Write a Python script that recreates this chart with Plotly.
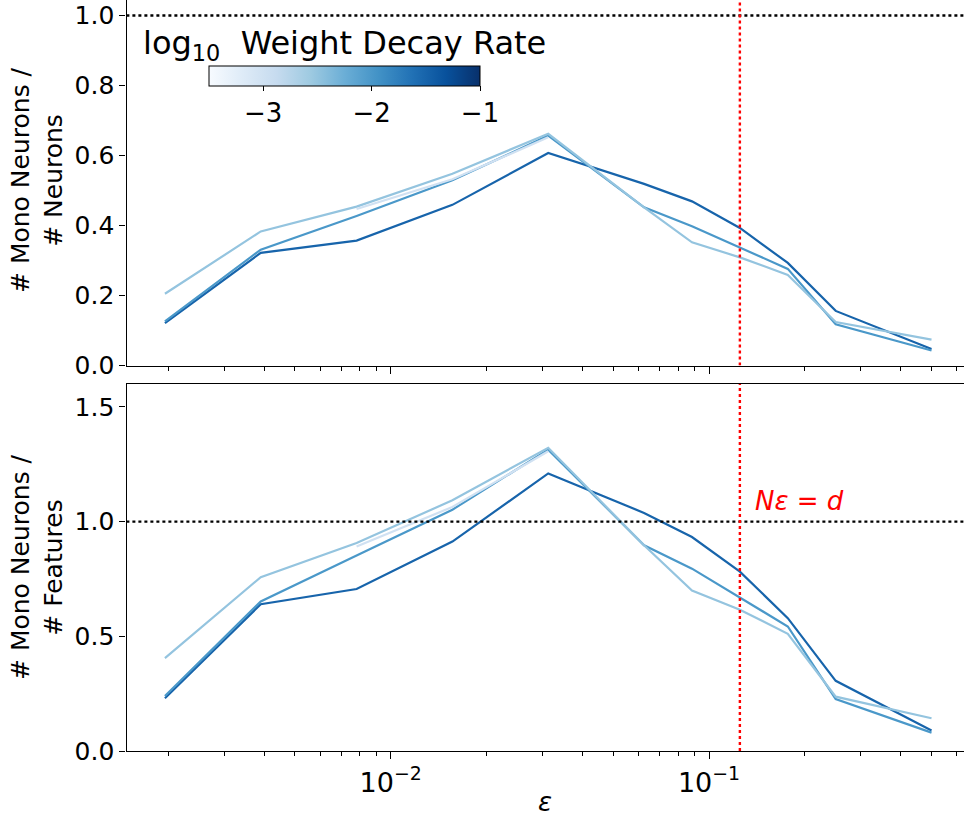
import math
import plotly.graph_objects as go
from plotly.colors import sample_colorscale

# Sparsity values (epsilon) on the shared log x-axis
eps = [0.001953125, 0.00390625, 0.0078125, 0.015625, 0.03125, 0.0625,
       0.0884, 0.125, 0.1768, 0.25, 0.5]

# log10 of the weight decay rate for each run (drawn in this order)
log_wd = [-1.5, -2.0, -2.5, -3.0]

# Fraction of monosemantic neurons among all neurons
mono_per_neuron = [
    [0.121, 0.322, 0.357, 0.459, 0.607, 0.519, 0.469, 0.393, 0.293, 0.156, 0.047],
    [0.126, 0.331, 0.427, 0.529, 0.657, 0.452, 0.398, 0.336, 0.276, 0.118, 0.043],
    [0.205, 0.383, 0.454, 0.548, 0.662, 0.452, 0.352, 0.309, 0.259, 0.124, 0.074],
    [None, None, 0.447, 0.532, 0.652, None, None, None, None, None, None],
]

# Monosemantic neurons relative to the number of features
mono_per_feature = [
    [0.230, 0.640, 0.706, 0.913, 1.210, 1.038, 0.933, 0.782, 0.579, 0.306, 0.089],
    [0.240, 0.652, 0.852, 1.052, 1.314, 0.897, 0.795, 0.670, 0.543, 0.226, 0.080],
    [0.405, 0.758, 0.907, 1.093, 1.322, 0.897, 0.700, 0.616, 0.511, 0.237, 0.143],
    [None, None, 0.892, 1.064, 1.307, None, None, None, None, None, None],
]

eps_critical = 0.125          # N * eps = d
wd_min, wd_max = -3.5, -1.0   # colour normalisation

top_yticks = [0.0, 0.2, 0.4, 0.6, 0.8, 1.0]
bot_yticks = [0.0, 0.5, 1.0, 1.5]
cbar_ticks = [-3, -2, -1]
x_major = [0.01, 0.1]
x_minor = [m * 10.0 ** p for p in (-3, -2, -1) for m in range(2, 10)]

blues = ["#f7fbff", "#deebf7", "#c6dbef", "#9ecae1", "#6baed6",
         "#4292c6", "#2171b5", "#08519c", "#08306b"]
blues_scale = [[i / (len(blues) - 1), c] for i, c in enumerate(blues)]

FONT = "DejaVu Sans"
W, H = 964, 822

fig = go.Figure()

for wd, top, bot in zip(log_wd, mono_per_neuron, mono_per_feature):
    col = sample_colorscale(blues_scale, [(wd - wd_min) / (wd_max - wd_min)])[0]
    fig.add_trace(go.Scatter(x=eps, y=top, mode="lines", xaxis="x", yaxis="y",
                             line=dict(color=col, width=2.2), showlegend=False,
                             connectgaps=False))
    fig.add_trace(go.Scatter(x=eps, y=bot, mode="lines", xaxis="x2", yaxis="y2",
                             line=dict(color=col, width=2.2), showlegend=False,
                             connectgaps=False))

dotted = "3px,3px"
# Reference lines: ratio of 1 and the critical sparsity
for xa, ya, ytop in (("x", "y", 1.2), ("x2", "y2", 1.8)):
    fig.add_trace(go.Scatter(x=[0.001, 1.0], y=[1.0, 1.0], mode="lines",
                             xaxis=xa, yaxis=ya, showlegend=False,
                             line=dict(color="black", width=2.4, dash=dotted)))
    fig.add_trace(go.Scatter(x=[eps_critical, eps_critical], y=[0, ytop], mode="lines",
                             xaxis=xa, yaxis=ya, showlegend=False,
                             line=dict(color="red", width=2.4, dash=dotted)))

# Carrier for the weight-decay colour bar
fig.add_trace(go.Scatter(
    x=[0.01, 0.01], y=[-1, -1], mode="markers", xaxis="x", yaxis="y",
    showlegend=False, hoverinfo="skip",
    marker=dict(color=[wd_min, wd_max], cmin=wd_min, cmax=wd_max,
                colorscale=blues_scale, opacity=0, size=1, showscale=True,
                colorbar=dict(orientation="h", x=209 / W, xanchor="left",
                              y=1 - 66 / H, yanchor="top",
                              len=271, lenmode="pixels",
                              thickness=20, thicknessmode="pixels",
                              xpad=0, ypad=0, outlinecolor="black", outlinewidth=1,
                              tickmode="array", tickvals=cbar_ticks,
                              ticktext=["\u2212" + str(abs(t)) for t in cbar_ticks],
                              ticks="outside", ticklen=5, tickwidth=1.2,
                              tickcolor="black",
                              tickfont=dict(family=FONT, size=26, color="black"))),
))

x_left = 126.5
xr = [-2.830, -0.199]
xdom = [x_left / W, 1.0]

xcommon = dict(type="log", range=xr, domain=xdom, showgrid=False, zeroline=False,
               showline=True, linecolor="black", linewidth=1.3,
               ticks="outside", ticklen=7, tickwidth=1.3, tickcolor="black",
               tickmode="array", tickvals=x_major,
               ticktext=["10<sup>\u22122</sup>", "10<sup>\u22121</sup>"],
               minor=dict(tickmode="array", tickvals=x_minor, ticks="outside",
                          ticklen=4, tickwidth=1.1, tickcolor="black"),
               tickfont=dict(family=FONT, size=27, color="black"),
               automargin=False)

ycommon = dict(showgrid=False, zeroline=False, showline=True, linecolor="black",
               linewidth=1.3, ticks="outside", ticklen=6, tickwidth=1.3,
               tickcolor="black", tickfont=dict(family=FONT, size=25, color="black"),
               automargin=False, anchor=None)

fig.update_layout(
    width=W, height=H, autosize=False,
    margin=dict(l=0, r=0, t=0, b=0, pad=0),
    paper_bgcolor="white", plot_bgcolor="white",
    font=dict(family=FONT, color="black"),
    xaxis=dict(xcommon, anchor="y", showticklabels=False),
    xaxis2=dict(xcommon, anchor="y2", mirror=True),
    yaxis=dict(ycommon, anchor="x", domain=[1 - 365.5 / H, 1.0],
               range=[0, 365.5 / 350], tickmode="array", tickvals=top_yticks,
               ticktext=[f"{v:.1f}" for v in top_yticks]),
    yaxis2=dict(ycommon, anchor="x2", domain=[1 - 751 / H, 1 - 384 / H],
                range=[0, 1.6], tickmode="array", tickvals=bot_yticks,
                ticktext=[f"{v:.1f}" for v in bot_yticks]),
)

annotations = [
    dict(text="log<sub>10</sub>  Weight Decay Rate", x=344 / W, y=1 - 45 / H,
         xref="paper", yref="paper", xanchor="center", yanchor="middle",
         showarrow=False, font=dict(family=FONT, size=32, color="black")),
    dict(text="# Mono Neurons /<br># Neurons", x=37 / W, y=1 - 180 / H,
         xref="paper", yref="paper", xanchor="center", yanchor="middle",
         textangle=-90, showarrow=False,
         font=dict(family=FONT, size=25, color="black")),
    dict(text="# Mono Neurons /<br># Features", x=37 / W, y=1 - 567 / H,
         xref="paper", yref="paper", xanchor="center", yanchor="middle",
         textangle=-90, showarrow=False,
         font=dict(family=FONT, size=25, color="black")),
    dict(text="<i>ε</i>", x=(x_left + W) / 2 / W, y=1 - 802 / H,
         xref="paper", yref="paper", xanchor="center", yanchor="middle",
         showarrow=False, font=dict(family=FONT, size=26, color="black")),
    dict(text="<i>N\u03b5</i> = <i>d</i>", x=math.log10(eps_critical * 1.1), y=1.09,
         xref="x2", yref="y2", xanchor="left", yanchor="middle",
         showarrow=False, font=dict(family=FONT, size=26, color="red")),
]
fig.update_layout(annotations=annotations)

fig.write_html("out.html")
